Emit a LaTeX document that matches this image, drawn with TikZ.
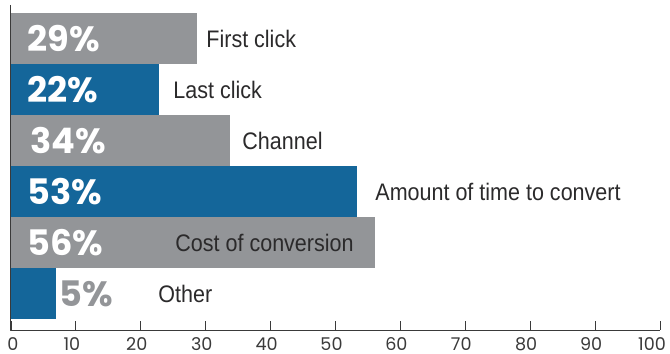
\documentclass[tikz,border=0pt]{standalone}
\usepackage{fontspec}
\setmainfont{Liberation Sans}
\newfontfamily\pctfont{Poppins}
\newfontfamily\catfont[FakeStretch=0.9]{Liberation Sans}
\definecolor{bargray}{HTML}{939598}
\definecolor{barblue}{HTML}{14669A}
\definecolor{inkgray}{HTML}{2B2A2B}
\definecolor{axisgray}{HTML}{3A3A3A}
\tikzset{
  pctlabel/.style={anchor=west,inner sep=0pt,font={\pctfont\bfseries\fontsize{25pt}{0pt}\selectfont}},
  catlabel/.style={anchor=west,inner sep=0pt,text=inkgray,font={\catfont\fontsize{17pt}{0pt}\selectfont}},
  ticklabel/.style={anchor=base,inner sep=0pt,text=axisgray,font={\pctfont\fontsize{12.5pt}{0pt}\selectfont}}
}
\begin{document}
\begin{tikzpicture}[x=0.025cm,y=-0.025cm,line width=0.6pt,line join=round]
	\useasboundingbox (0,0) rectangle (670,354);
	% Thanh du lieu
	\foreach \r/\xe/\col/\pc/\pcol/\px/\lab/\lx in {
		1/197/bargray/29\%/white/27/First click/206,
		2/159/barblue/22\%/white/27/Last click/173,
		3/230/bargray/34\%/white/30/Channel/242,
		4/357/barblue/53\%/white/27/Amount of time to convert/375,
		5/375/bargray/56\%/white/27/Cost of conversion/175,
		6/56/barblue/5\%/bargray/59/Other/158}{
		\pgfmathsetmacro{\yt}{13+51*(\r-1)}
		\fill[\col] (11,\yt) rectangle (\xe,\yt+51);
		\node[pctlabel,text=\pcol] (pct\r) at (\px,\yt+26) {\pc};
		\node[catlabel] (lab\r) at (\lx,\yt+26) {\lab};
	}
	% Truc
	\draw[axisgray] (10.5,5) -- (10.5,330) -- (660,330);
	\foreach \t in {0,10,...,100}{
		\pgfmathsetmacro{\dx}{\t==0 ? 2 : (\t==100 ? -8 : -4)}
		\draw[axisgray] (11+6.49*\t,321) -- (11+6.49*\t,330);
		\node[ticklabel] (tick\t) at (11+6.49*\t+\dx,350) {\t};
	}
\end{tikzpicture}
\end{document}
